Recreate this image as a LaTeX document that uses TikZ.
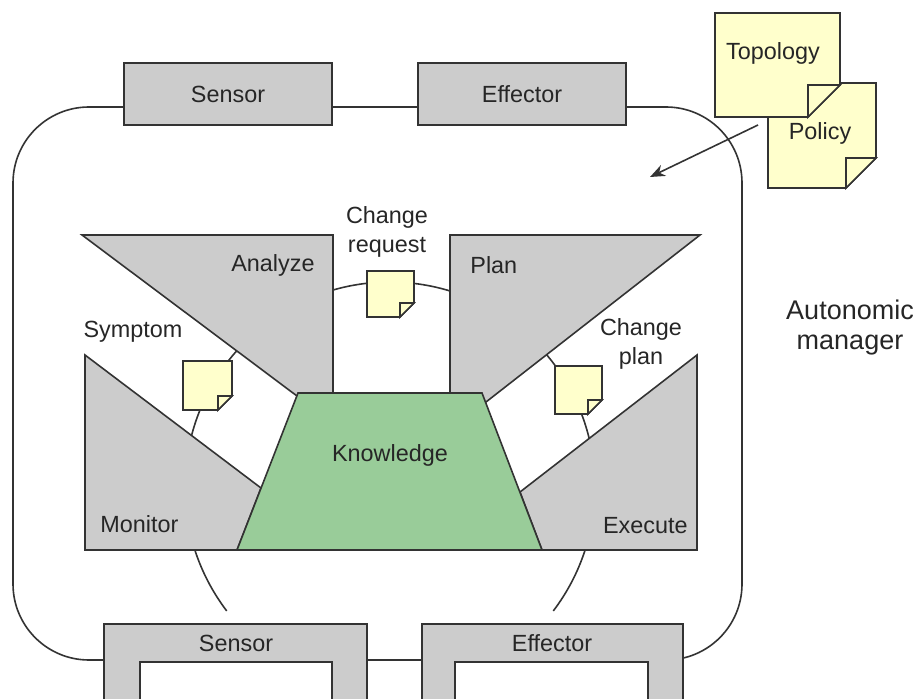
\documentclass[tikz,border=0pt]{standalone}
\usepackage{fontspec}
\setmainfont{Liberation Sans}
\usetikzlibrary{arrows.meta}
\definecolor{stagegray}{HTML}{CCCCCC}
\definecolor{knowgreen}{HTML}{99CC99}
\definecolor{noteyellow}{HTML}{FFFFCC}
\definecolor{inkline}{HTML}{333333}
\newcommand{\txtfont}{\fontsize{11.7}{14.5}\selectfont}
\begin{document}
\begin{tikzpicture}[
x=0.5pt, y=-0.5pt,
every edge/.style = {draw=inkline, line width=0.8pt},
 wire/.style  = {draw=inkline, line width=0.8pt},
 port/.style  = {rectangle, draw=inkline, line width=0.8pt, fill=stagegray,
      minimum width=104pt, minimum height=31pt, text=black!85, font=\txtfont},
 stage/.style = {draw=inkline, line width=0.8pt, fill=stagegray, line join=miter},
 store/.style = {draw=inkline, line width=0.8pt, fill=knowgreen},
 sheet/.style = {draw=inkline, line width=0.8pt, fill=noteyellow, line join=miter},
 lbl/.style   = {inner sep=0pt, align=center, text=black!85, font=\txtfont}
                    ]
\useasboundingbox (0,0) rectangle (920,699);
\clip (0,0) rectangle (920,699);
% loop of the manager
\draw[wire, rounded corners=38pt] (13,107) rectangle (742,660);
\draw[wire] (390,487) ++(217.2:102.5pt)
      arc[start angle=217.2, end angle=-37.2, radius=102.5pt];
%
\draw[stage] (82,235) -- (333,235) -- (333,396) -- (297,396) -- cycle;
\draw[stage] (450,235) -- (700,235) -- (486,402) -- (450,402) -- cycle;
\draw[stage] (85,355) -- (261,488) -- (237,550) -- (85,550) -- cycle;
\draw[stage] (697,355) -- (697,550) -- (542,550) -- (520,492) -- cycle;
\draw[store] (298,393) -- (482,393) -- (542,550) -- (237,550) -- cycle;
%
\foreach \xa/\ya/\xb/\yb/\f in {183/361/232/410/14, 367/271/414/317/14,
      555/366/602/414/14, 768/83/876/188/30, 715/13/840/117/32}
{
\draw[sheet] (\xa,\ya) -- (\xb,\ya) -- (\xb,\yb-\f) -- (\xb-\f,\yb)
      -- (\xa,\yb) -- cycle;
\draw[sheet] (\xb-\f,\yb) -- (\xb-\f,\yb-\f) -- (\xb,\yb-\f) -- cycle;
}
%
\node(sensT) [port] at (228,94) {Sensor};
\node(effT)  [port] at (522,94) {Effector};
\filldraw[stage] (104,624) rectangle (367,720);
\filldraw[wire, fill=white] (140,662) rectangle (332,720);
\filldraw[stage] (422,624) rectangle (683,720);
\filldraw[wire, fill=white] (455,662) rectangle (648,720);
\node(sensB) [lbl] at (236,643) {Sensor};
\node(effB)  [lbl] at (552,643) {Effector};
%
\node(ana)  [lbl, anchor=east] at (315,265) {Analyze};
\node(pln)  [lbl, anchor=west] at (470,265) {Plan};
\node(mon)  [lbl, anchor=west] at (100,524) {Monitor};
\node(exe)  [lbl, anchor=east] at (688,526) {Execute};
\node(knw)  [lbl] at (390,455) {Knowledge};
\node(sym)  [lbl] at (133,332) {Symptom};
\node(req)  [lbl] at (387,232) {Change\\request};
\node(chp)  [lbl] at (641,344) {Change\\plan};
\node(topo) [lbl] at (773,53) {Topology};
\node(pol)  [lbl] at (820,133) {Policy};
\node(am)   [lbl, font=\fontsize{13.5}{15}\selectfont] at (850,328)
      {Autonomic\\manager};
%
\coordinate (feed) at (758,125);
\coordinate (aim)  at (650,177);
\path (feed) edge[-{Stealth[length=7.5pt, width=6pt]}] (aim);
\end{tikzpicture}
\end{document}
